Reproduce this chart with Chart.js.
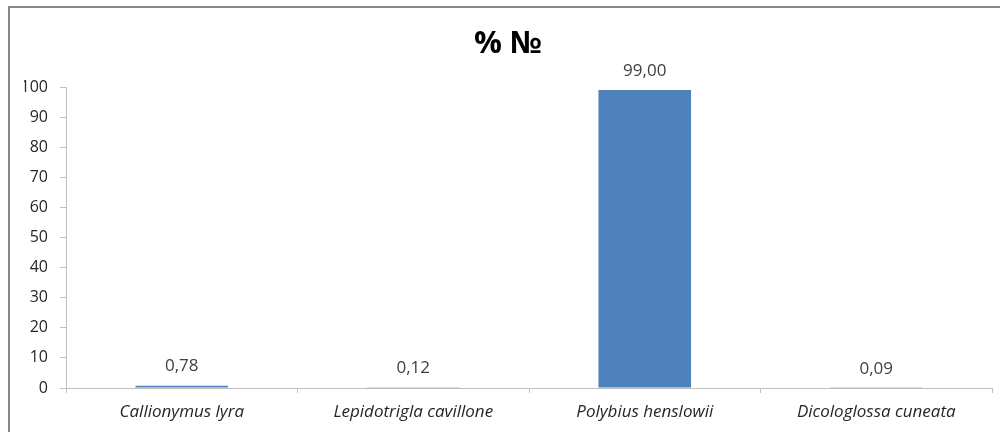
<!DOCTYPE html>
<html>
<head>
<meta charset="utf-8">
<script src="https://cdn.jsdelivr.net/npm/chart.js@4/dist/chart.umd.min.js"></script>
<style>
html,body{margin:0;padding:0;background:#fff;}
#wrap{position:relative;width:1000px;height:432px;}
</style>
</head>
<body>
<div id="wrap"><canvas id="c" width="1000" height="432"></canvas></div>
<script>
const categories = ["Callionymus lyra", "Lepidotrigla cavillone", "Polybius henslowii", "Dicologlossa cuneata"];
const percentValues = [0.78, 0.12, 99.00, 0.09];
const yTicks = [0, 10, 20, 30, 40, 50, 60, 70, 80, 90, 100];
const chartTitle = "% №";

const FONT = "'Open Sans', Lato, sans-serif";

const frame = {
  id: 'frame',
  beforeDraw(chart) {
    const ctx = chart.ctx;
    ctx.save();
    ctx.fillStyle = '#fff';
    ctx.fillRect(0, 0, chart.width, chart.height);
    ctx.strokeStyle = '#878787';
    ctx.lineWidth = 2;
    ctx.beginPath();
    ctx.moveTo(9, chart.height + 5);
    ctx.lineTo(9, 7);
    ctx.lineTo(chart.width + 5, 7);
    ctx.stroke();
    ctx.restore();
  }
};

const dataLabels = {
  id: 'dataLabels',
  afterDatasetsDraw(chart) {
    const ctx = chart.ctx;
    const meta = chart.getDatasetMeta(0);
    ctx.save();
    ctx.font = "17px " + FONT;
    ctx.fillStyle = '#404040';
    ctx.textAlign = 'center';
    ctx.textBaseline = 'middle';
    meta.data.forEach((bar, i) => {
      const v = chart.data.datasets[0].data[i];
      ctx.fillText(v.toFixed(2).replace('.', ','), bar.x, bar.y - 19);
    });
    ctx.restore();
  }
};

new Chart(document.getElementById('c'), {
  type: 'bar',
  data: {
    labels: categories,
    datasets: [{
      data: percentValues,
      backgroundColor: '#4f81bd',
      borderWidth: 0,
      categoryPercentage: 1.0,
      barPercentage: 0.4
    }]
  },
  options: {
    responsive: false,
    animation: false,
    layout: { padding: { left: 24, right: 8, top: 0, bottom: 0 } },
    plugins: {
      legend: { display: false },
      tooltip: { enabled: false },
      title: {
        display: true,
        text: chartTitle,
        color: '#000',
        font: { family: FONT, size: 31, weight: 'bold', lineHeight: 1.2 },
        padding: { top: 25.4, bottom: 24.4 }
      }
    },
    scales: {
      x: {
        offset: true,
        grid: { display: true, drawOnChartArea: false, drawTicks: true, tickLength: 5, color: '#bfbfbf', offset: true },
        border: { display: true, color: '#bfbfbf', width: 1 },
        ticks: { color: '#262626', font: { family: FONT, size: 17, style: 'italic' }, padding: 9, maxRotation: 0, autoSkip: false },
        afterFit(scale) { scale.height = 44; }
      },
      y: {
        min: 0,
        max: 100,
        afterBuildTicks(scale) { scale.ticks = yTicks.map(v => ({ value: v })); },
        grid: { display: true, drawOnChartArea: false, drawTicks: true, tickLength: 6, color: '#bfbfbf' },
        border: { display: true, color: '#bfbfbf', width: 1 },
        ticks: { color: '#262626', font: { family: FONT, size: 16 }, padding: 12 },
        afterFit(scale) { scale.width = 42; }
      }
    }
  },
  plugins: [frame, dataLabels]
});
</script>
</body>
</html>
